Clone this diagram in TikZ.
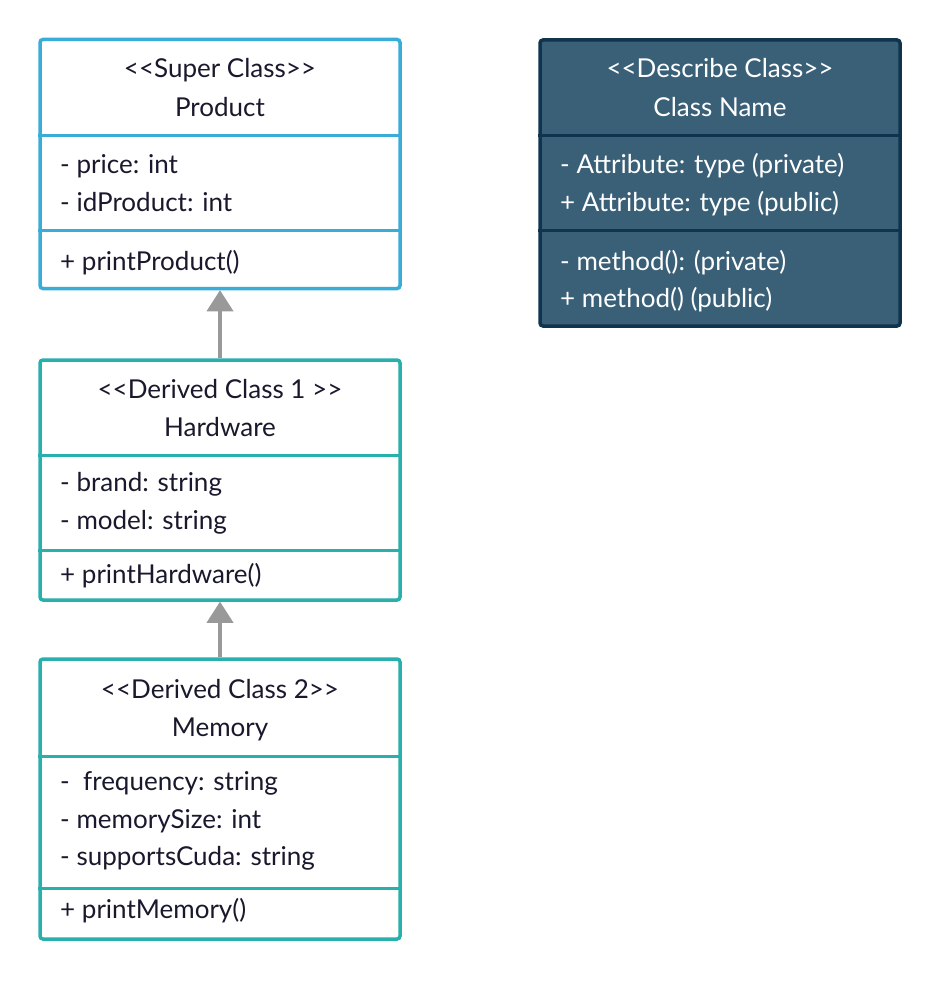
\documentclass[tikz,border=0pt]{standalone}
\usepackage{fontspec}
\setmainfont{Lato}
\usetikzlibrary{positioning,arrows.meta}
\definecolor{myblue}{RGB}{58,172,216}
\definecolor{myteal}{RGB}{40,176,172}
\definecolor{myslate}{RGB}{58,96,120}
\definecolor{mynavy}{RGB}{16,52,78}
\definecolor{mygray}{RGB}{153,153,153}
\definecolor{mytext}{RGB}{25,25,45}

\begin{document}
\begin{tikzpicture}[x=1pt,y=-1pt,
  cbox/.style={rectangle,rounded corners=3pt,line width=3.5pt,minimum width=360pt,inner sep=0pt},
  supbox/.style={cbox,draw=myblue,fill=white},
  derbox/.style={cbox,draw=myteal,fill=white},
  descbox/.style={cbox,draw=mynavy,fill=myslate},
  ctitle/.style={anchor=base,inner sep=0pt,font=\fontsize{26}{30}\selectfont,text=mytext},
  cline/.style={anchor=base west,inner sep=0pt,font=\fontsize{26}{30}\selectfont,text=mytext},
  inherit/.style={draw=mygray,line width=3.5pt,-{Triangle[width=27pt,length=21pt,line width=0pt]}}]

  \useasboundingbox (0,0) rectangle (941,981);

  % class boxes
  \node[supbox,minimum height=249pt] (product) at (220,164) {};
  \node[derbox,minimum height=240pt] (hardware) at (220,480) {};
  \node[derbox,minimum height=280pt] (memory) at (220,799) {};
  \node[descbox,minimum height=286pt] (describe) at (720,183) {};

  % compartment lines
  \draw[myblue,line width=3pt] (product.west |- 0,136) -- (product.east |- 0,136)
    (product.west |- 0,231) -- (product.east |- 0,231);
  \draw[myteal,line width=3pt] (hardware.west |- 0,455) -- (hardware.east |- 0,455)
    (hardware.west |- 0,550) -- (hardware.east |- 0,550)
    (memory.west |- 0,756) -- (memory.east |- 0,756)
    (memory.west |- 0,888) -- (memory.east |- 0,888);
  \draw[mynavy,line width=3pt] (describe.west |- 0,136) -- (describe.east |- 0,136)
    (describe.west |- 0,231) -- (describe.east |- 0,231);

  % super class
  \node[ctitle] (productstereo) at (220,78) {<{}<Super Class>{}>};
  \node[ctitle] (productname) at (220,116.5) {Product};
  \node[cline] (productattr1) at (60,174) {- price: int};
  \node[cline] (productattr2) at (60,212) {- idProduct: int};
  \node[cline] (productop1) at (60,270) {+ printProduct()};

  % derived class 1
  \node[ctitle] (hardwarestereo) at (220,398) {<{}<Derived Class 1 >{}>};
  \node[ctitle] (hardwarename) at (220,436.5) {Hardware};
  \node[cline] (hardwareattr1) at (60,491) {- brand: string};
  \node[cline] (hardwareattr2) at (60,529) {- model: string};
  \node[cline] (hardwareop1) at (60,583) {+ printHardware()};

  % derived class 2
  \node[ctitle] (memorystereo) at (220,698) {<{}<Derived Class 2>{}>};
  \node[ctitle] (memoryname) at (220,736.5) {Memory};
  \node[cline] (memoryattr1) at (60,790) {-\ \ frequency: string};
  \node[cline] (memoryattr2) at (60,828) {- memorySize: int};
  \node[cline] (memoryattr3) at (60,865) {- supportsCuda: string};
  \node[cline] (memoryop1) at (60,918) {+ printMemory()};

  % legend class
  \node[ctitle,text=white] (describestereo) at (720,78) {<{}<Describe Class>{}>};
  \node[ctitle,text=white] (describename) at (720,116.5) {Class Name};
  \node[cline,text=white] (describeattr1) at (560,174) {- Attribute: type (private)};
  \node[cline,text=white] (describeattr2) at (560,212) {+ Attribute: type (public)};
  \node[cline,text=white] (describeop1) at (560,270) {- method(): (private)};
  \node[cline,text=white] (describeop2) at (560,307) {+ method() (public)};

  % inheritance
  \draw[inherit] (hardware.north) -- (product.south);
  \draw[inherit] (memory.north) -- (hardware.south);
\end{tikzpicture}
\end{document}
